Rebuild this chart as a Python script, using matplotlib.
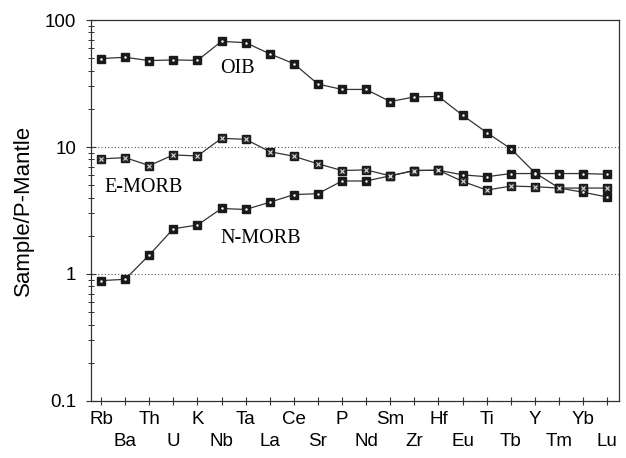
import matplotlib
matplotlib.use("Agg")
import matplotlib.pyplot as plt
import numpy as np

elements = ["Rb", "Ba", "Th", "U", "K", "Nb", "Ta", "La", "Ce", "Sr", "P",
            "Nd", "Sm", "Zr", "Hf", "Eu", "Ti", "Tb", "Y", "Tm", "Yb", "Lu"]
oib = [49.7, 50.9, 47.9, 48.5, 48.1, 67.9, 66.3, 54.2, 45.3, 31.3, 28.4,
       28.4, 22.8, 24.8, 25.0, 17.8, 13.0, 9.7, 6.27, 4.76, 4.40, 4.04]
emorb = [8.06, 8.25, 7.14, 8.66, 8.5, 11.7, 11.5, 9.19, 8.45, 7.37, 6.53,
         6.6, 5.93, 6.53, 6.56, 5.36, 4.58, 4.92, 4.87, 4.75, 4.75, 4.75]
nmorb = [0.887, 0.908, 1.41, 2.27, 2.43, 3.28, 3.22, 3.67, 4.22, 4.29, 5.4,
         5.4, 5.93, 6.53, 6.56, 6.04, 5.83, 6.18, 6.18, 6.18, 6.18, 6.1]
series_labels = ["OIB", "E-MORB", "N-MORB"]
yticks = [0.1, 1, 10, 100]
ytick_labels = ["0.1", "1", "10", "100"]

fig = plt.figure(figsize=(6.26, 4.58), dpi=100)
ax = fig.add_axes([0.1454, 0.1245, 0.8434, 0.8318])
x = np.arange(len(elements))

lc = "#333333"
ms = 5.5
# OIB and N-MORB: filled squares with small white dot
for data in (oib, nmorb):
    ax.plot(x, data, color=lc, lw=0.9, marker="s", ms=ms, mfc="#1a1a1a",
            mec="#1a1a1a", zorder=3)
    ax.plot(x, data, ls="none", marker=".", ms=1.5, color="white", zorder=4)
# E-MORB: hatched squares
ax.plot(x, emorb, color=lc, lw=0.9, marker="s", ms=ms, mfc="#2a2a2a",
        mec="#1a1a1a", zorder=3)
ax.plot(x, emorb, ls="none", marker="x", ms=3.2, mew=0.8, color="#dddddd", zorder=4)

ax.set_yscale("log")
ax.set_ylim(0.1, 100)
ax.set_xlim(-0.415, 21.49)

for yv in (1, 10):
    ax.axhline(yv, color="#555555", lw=0.8, ls=(0, (1, 2)), zorder=1)

ax.set_yticks(yticks)
ax.set_yticklabels(ytick_labels, family="Liberation Sans", fontsize=13.5)
ax.tick_params(axis="y", which="major", direction="inout", length=7.2, width=0.8,
               color="#333333", pad=7)
ax.tick_params(axis="y", which="minor", direction="inout", length=4.3, width=0.7,
               color="#333333")
ax.yaxis.set_minor_locator(matplotlib.ticker.LogLocator(base=10, subs=np.arange(2, 10)))
ax.yaxis.set_minor_formatter(matplotlib.ticker.NullFormatter())

ax.set_xticks(x)
labs = [e if i % 2 == 0 else "\n" + e for i, e in enumerate(elements)]
ax.set_xticklabels(labs, family="Liberation Sans", fontsize=13.5)
for t in ax.get_xticklabels():
    t.set_linespacing(1.4)
ax.tick_params(axis="x", which="major", direction="inout", length=5.8, width=0.8,
               color="#333333", pad=4.5)

for s in ax.spines.values():
    s.set_color("#333333")
    s.set_linewidth(0.9)

ax.set_ylabel("Sample/P-Mantle", family="Liberation Sans", fontsize=16, labelpad=8)

ax.text(5.64, 41.3, series_labels[0], family="Liberation Serif", fontsize=14.5, ha="center", va="center")
ax.text(1.76, 4.77, series_labels[1], family="Liberation Serif", fontsize=14.5, ha="center", va="center")
ax.text(6.64, 1.905, series_labels[2], family="Liberation Serif", fontsize=14.5, ha="center", va="center")

fig.savefig("out.png", dpi=100)
